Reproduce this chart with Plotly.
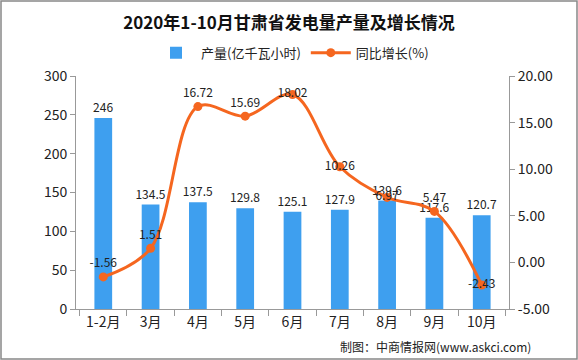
import plotly.graph_objects as go

categories = ["1-2月", "3月", "4月", "5月", "6月", "7月", "8月", "9月", "10月"]
output = [246, 134.5, 137.5, 129.8, 125.1, 127.9, 139.6, 117.6, 120.7]
growth = [-1.56, 1.51, 16.72, 15.69, 18.02, 10.26, 6.97, 5.47, -2.43]
left_ticks = [0, 50, 100, 150, 200, 250, 300]
right_ticks = [-5, 0, 5, 10, 15, 20]

font_main = "Noto Sans CJK SC"

fig = go.Figure()
fig.add_trace(go.Bar(
    x=categories, y=output, name="产量(亿千瓦小时)",
    marker=dict(color="#3E9FEF", line=dict(width=0)), width=0.375,
    text=[str(v) for v in output], textposition="outside",
    textfont=dict(size=12, color="#222", family=font_main),
    cliponaxis=False, yaxis="y",
))
fig.add_trace(go.Scatter(
    x=categories, y=growth, name="同比增长(%)", mode="lines+markers+text",
    line=dict(color="#F5661F", width=3, shape="spline", smoothing=1.0),
    marker=dict(size=9, color="#F5661F"),
    text=[f"{v:.2f}" for v in growth],
    textposition=["top center", "top center", "top center", "top center", "middle center",
                  "middle center", "middle center", "top center", "middle center"],
    textfont=dict(size=12, color="#222", family=font_main),
    cliponaxis=False, yaxis="y2",
))

fig.update_layout(
    width=578, height=360,
    margin=dict(l=76, r=69, t=76, b=51, autoexpand=False),
    uniformtext=dict(minsize=12, mode="show"),
    paper_bgcolor="white", plot_bgcolor="white",
    title=dict(text="<b>2020年1-10月甘肃省发电量产量及增长情况</b>", x=0.5, xanchor="center",
               y=0.935, yanchor="middle", font=dict(size=17, color="#111", family=font_main)),
    legend=dict(orientation="h", x=0.5, xanchor="center", y=1.10, yanchor="middle",
                font=dict(size=13, color="#222", family=font_main), itemwidth=40),
    showlegend=True,
    xaxis=dict(type="category", showline=True, linecolor="#999", linewidth=1,
               ticks="outside", tickcolor="#999", ticklen=6, tickson="boundaries",
               tickfont=dict(size=14, color="#222", family=font_main), showgrid=False),
    yaxis=dict(range=[0, 300], tickvals=left_ticks, showline=True, linecolor="#999",
               ticks="outside", tickcolor="#999", ticklen=5, showgrid=False, zeroline=False,
               tickfont=dict(size=14, color="#222", family=font_main)),
    yaxis2=dict(range=[-5, 20], tickvals=right_ticks, ticktext=[f"{v:.2f}" for v in right_ticks],
                overlaying="y", side="right", showline=True, linecolor="#999",
                ticks="outside", tickcolor="#999", ticklen=5, showgrid=False, zeroline=False,
                tickfont=dict(size=14, color="#222", family=font_main)),
    shapes=[dict(type="rect", xref="paper", yref="paper", x0=-75/433, x1=1+68/433,
                 y0=-50/233, y1=1+75/233, line=dict(color="#888", width=1.5))],
    annotations=[dict(text="制图：中商情报网(www.askci.com)", xref="paper", yref="paper",
                      x=1.055, y=-0.162, xanchor="right", yanchor="middle", showarrow=False,
                      font=dict(size=12, color="#222", family=font_main))],
)

fig.write_html("out.html", config={"displayModeBar": False},
               post_script="document.body.style.margin='0';")
